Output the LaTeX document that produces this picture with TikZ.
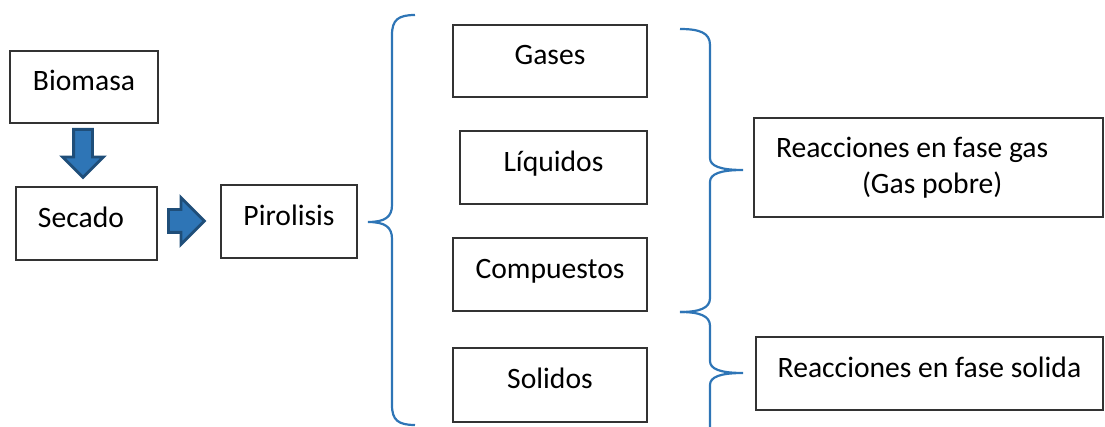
\documentclass[tikz,border=0pt]{standalone}
\usepackage{fontspec}
\setmainfont{Carlito}
\usetikzlibrary{shapes.arrows}
\definecolor{llave}{RGB}{46,117,182}
\definecolor{flecha}{RGB}{31,78,121}
\begin{document}
\begin{tikzpicture}[x=0.5pt,y=-0.5pt,
	every node/.style={font=\fontsize{14.8}{18}\selectfont},
	caja/.style={draw=black!80,line width=0.6pt,inner sep=0pt},
	arriba/.style={text height=10pt,text depth=6pt},
	bloque/.style={single arrow,draw=flecha,fill=llave,line width=1.4pt,single arrow head extend=6pt,anchor=tail},
	llaves/.style={draw=llave,line width=1.1pt}]
	\useasboundingbox (0,0) rectangle (1105,427);
	% secuencia de la izquierda
	\node[caja,arriba,minimum width=74pt,minimum height=36pt] (bio) at (84,87){Biomasa};
	\node[caja,arriba,align=flush left,text width=59.5pt,inner xsep=5.5pt,minimum height=36.5pt] (sec) at (86.5,223.5){\hspace*{5.5pt}Secado};
	\node[caja,arriba,minimum width=68pt,minimum height=36.5pt] (pir) at (289,221.5){Pirolisis};
	\node[bloque,shape border rotate=270,minimum height=24pt,inner xsep=4pt,inner ysep=0pt,single arrow head extend=5.5pt] (f1) at (83,128){};
	\node[bloque,minimum height=18pt,inner xsep=0pt,inner ysep=5pt] (f2) at (167,221){};
	% productos
	\node[caja,arriba,minimum width=97pt,minimum height=36pt] (gas) at (550,61){Gases};
	\node[caja,arriba,minimum width=93.5pt,minimum height=36.5pt] (liq) at (553.5,167.5){Líquidos};
	\node[caja,arriba,minimum width=97pt,minimum height=36.5pt] (com) at (550,274.5){Compuestos};
	\node[caja,arriba,minimum width=97pt,minimum height=37pt] (sol) at (550,385){Solidos};
	% reacciones
	\node[caja,align=flush left,text width=163.5pt,inner xsep=5.5pt,minimum height=49.5pt] (rgas) at (928.5,167.5){\hspace*{5.5pt}Reacciones en fase gas\\ \hspace*{48.5pt}(Gas pobre)};
	\node[caja,arriba,minimum width=173.5pt,minimum height=36.5pt] (rsol) at (929.5,373.5){Reacciones en fase solida};
	% llaves
	\draw[llaves] (415,15) .. controls (398,15) and (392,20) .. (392,35) -- (392,205) .. controls (392,217) and (385,222) .. (368,222) .. controls (385,222) and (392,227) .. (392,239) -- (392,405) .. controls (392,420) and (398,425) .. (415,425);
	\draw[llaves] (680,29) .. controls (700,29) and (710,33) .. (710,45) -- (710,158) .. controls (710,166) and (720,170) .. (743,170) .. controls (720,170) and (710,174) .. (710,182) -- (710,298) .. controls (710,308) and (700,312) .. (680,312);
	\draw[llaves] (680,312) .. controls (700,312) and (710,316) .. (710,326) -- (710,361) .. controls (710,369) and (720,373) .. (743,373) .. controls (720,373) and (710,377) .. (710,385) -- (710,427);
\end{tikzpicture}
\end{document}
